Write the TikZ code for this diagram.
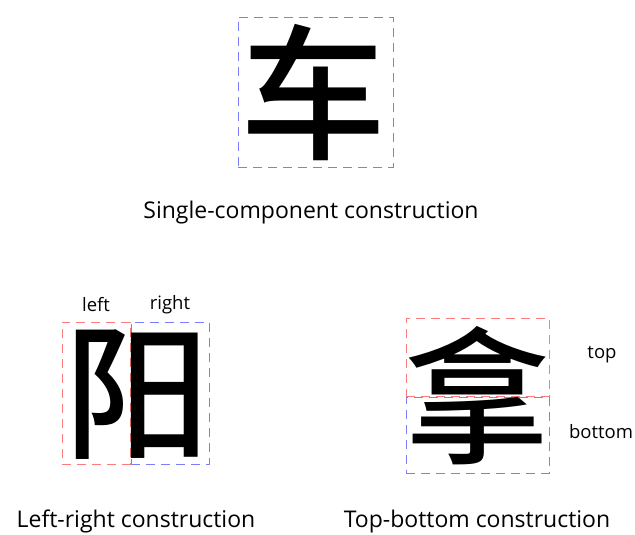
\documentclass[tikz,border=0pt]{standalone}
\usepackage{fontspec}
\setmainfont{Open Sans}
\newfontfamily\cjk{Noto Sans CJK SC}[UprightFont={* Medium}]
\usetikzlibrary{positioning}
\definecolor{boxblue}{RGB}{125,125,250}
\definecolor{boxred}{RGB}{250,125,125}
\tikzset{
  partbox/.style={draw,rectangle,dashed,dash pattern=on 9pt off 6pt,line width=0.8pt,inner sep=0pt},
  bluebox/.style={partbox,draw=boxblue},
  redbox/.style={partbox,draw=boxred},
  glyph/.style={font=\cjk\fontsize{146}{146}\selectfont,inner sep=0pt},
  caption/.style={font=\fontsize{23}{26}\selectfont,inner sep=0pt},
  partlbl/.style={font=\fontsize{18.5}{21}\selectfont,inner sep=0pt}
}
\begin{document}
\begin{tikzpicture}[x=1pt,y=-1pt]
  \useasboundingbox (0,0) rectangle (635,535);
  % Single component
  \node[bluebox, minimum width=155, minimum height=150] (single) at (315.5,92) {};
  \node[glyph] (che) at (313,93) {车};
  \node[caption] (capsingle) at (311,213) {Single-component construction};

  % Left-right
  \node[redbox, minimum width=68, minimum height=142] (leftbox) at (96,393) {};
  \node[bluebox, minimum width=78, minimum height=142] (rightbox) at (170,393) {};
  \node[glyph] (yang) at (137,395) {阳};
  \node[partlbl] (lblleft) at (96,305) {left};
  \node[partlbl] (lblright) at (170,305) {right};
  \node[caption] (caplr) at (136,521.5) {Left-right construction};

  % Top-bottom
  \node[redbox, minimum width=143, minimum height=78] (topbox) at (477.5,357) {};
  \node[bluebox, minimum width=143, minimum height=76] (bottombox) at (477.5,435) {};
  \node[glyph] (na) at (477,396) {拿};
  \node[partlbl] (lbltop) at (602,355) {top};
  \node[partlbl] (lblbottom) at (601,432) {bottom};
  \node[caption] (captb) at (477,521.5) {Top-bottom construction};
\end{tikzpicture}
\end{document}
